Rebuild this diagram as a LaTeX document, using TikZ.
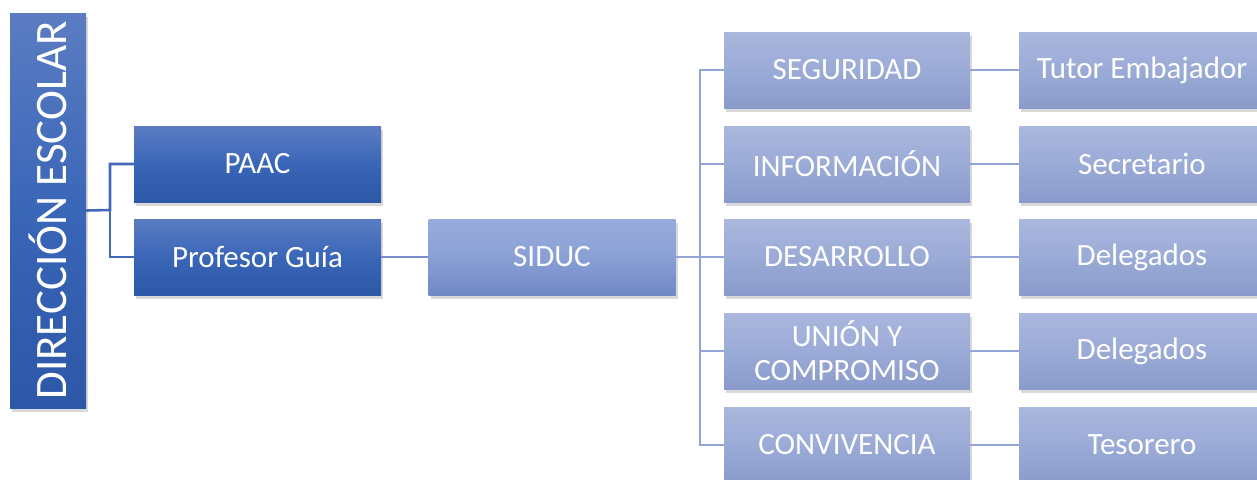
\documentclass[tikz,border=0pt]{standalone}
\usepackage{fontspec}
\usepackage{graphicx}
\setmainfont{Carlito}
\usetikzlibrary{shadows,positioning}
\definecolor{darktop}{HTML}{5B7CC2}
\definecolor{darkmid}{HTML}{3A66B8}
\definecolor{darkbot}{HTML}{2D57A7}
\definecolor{sidtop}{HTML}{98ABDC}
\definecolor{sidmid}{HTML}{8AA0D5}
\definecolor{sidbot}{HTML}{6F88C5}
\definecolor{lighttop}{HTML}{AAB7DE}
\definecolor{lightmid}{HTML}{9BABD7}
\definecolor{lightbot}{HTML}{8A9ACB}
\definecolor{linkdark}{HTML}{4469B8}
\definecolor{linkmid}{HTML}{7990CC}
\definecolor{linklight}{HTML}{93A5D6}
\begin{document}
\begin{tikzpicture}
  [x=1pt,y=-1pt,
   box/.style={draw=none,text=white,inner sep=0pt,align=center,
     minimum width=246pt,minimum height=76pt,
     font=\fontsize{31}{34}\selectfont,
     drop shadow={shadow xshift=2pt,shadow yshift=-4pt,opacity=0.3}},
   darkbox/.style={box,top color=darktop,bottom color=darkbot,middle color=darkmid},
   sidbox/.style={box,top color=sidtop,bottom color=sidbot,middle color=sidmid},
   lightbox/.style={box,top color=lighttop,bottom color=lightbot,middle color=lightmid},
   link/.style={line width=2.6pt,draw=#1}]
  \useasboundingbox (0,0) rectangle (1257,479);
  \clip (0,0) rectangle (1257,479);

  \node[darkbox,minimum width=76pt,minimum height=395pt,
    font=\fontsize{45}{50}\selectfont] (dir) at (48,210.5)
    {\rotatebox{90}{DIRECCIÓN ESCOLAR}};
  \node[darkbox,minimum width=247pt] (paac) at (257.5,164) {PAAC};
  \node[darkbox,minimum width=247pt] (prof) at (257.5,257) {Profesor Guía};
  \node[sidbox,minimum width=247pt] (siduc) at (552,257) {SIDUC};

  \coordinate (busA) at (110,210);
  \coordinate (busB) at (700,257);

  \draw[link=linkdark] (dir.east) -- (busA) |- (paac.west);
  \draw[link=linkdark] (busA) |- (prof.west);
  \draw[link=linkmid] (prof.east) -- (siduc.west);
  \draw[link=linklight] (siduc.east) -- (busB);

  \foreach \y/\cat/\role/\n in {70/SEGURIDAD/Tutor Embajador/1,
      164/INFORMACIÓN/Secretario/2,
      257/DESARROLLO/Delegados/3,
      351/{UNIÓN Y\\COMPROMISO}/Delegados/4,
      445/CONVIVENCIA/Tesorero/5} {
    \node[lightbox] (cat\n) at (847,\y) {\cat};
    \node[lightbox] (role\n) at (1142,\y) {\role};
    \draw[link=linklight] (busB) |- (cat\n.west);
    \draw[link=linklight] (cat\n.east) -- (role\n.west);
  }
\end{tikzpicture}
\end{document}
